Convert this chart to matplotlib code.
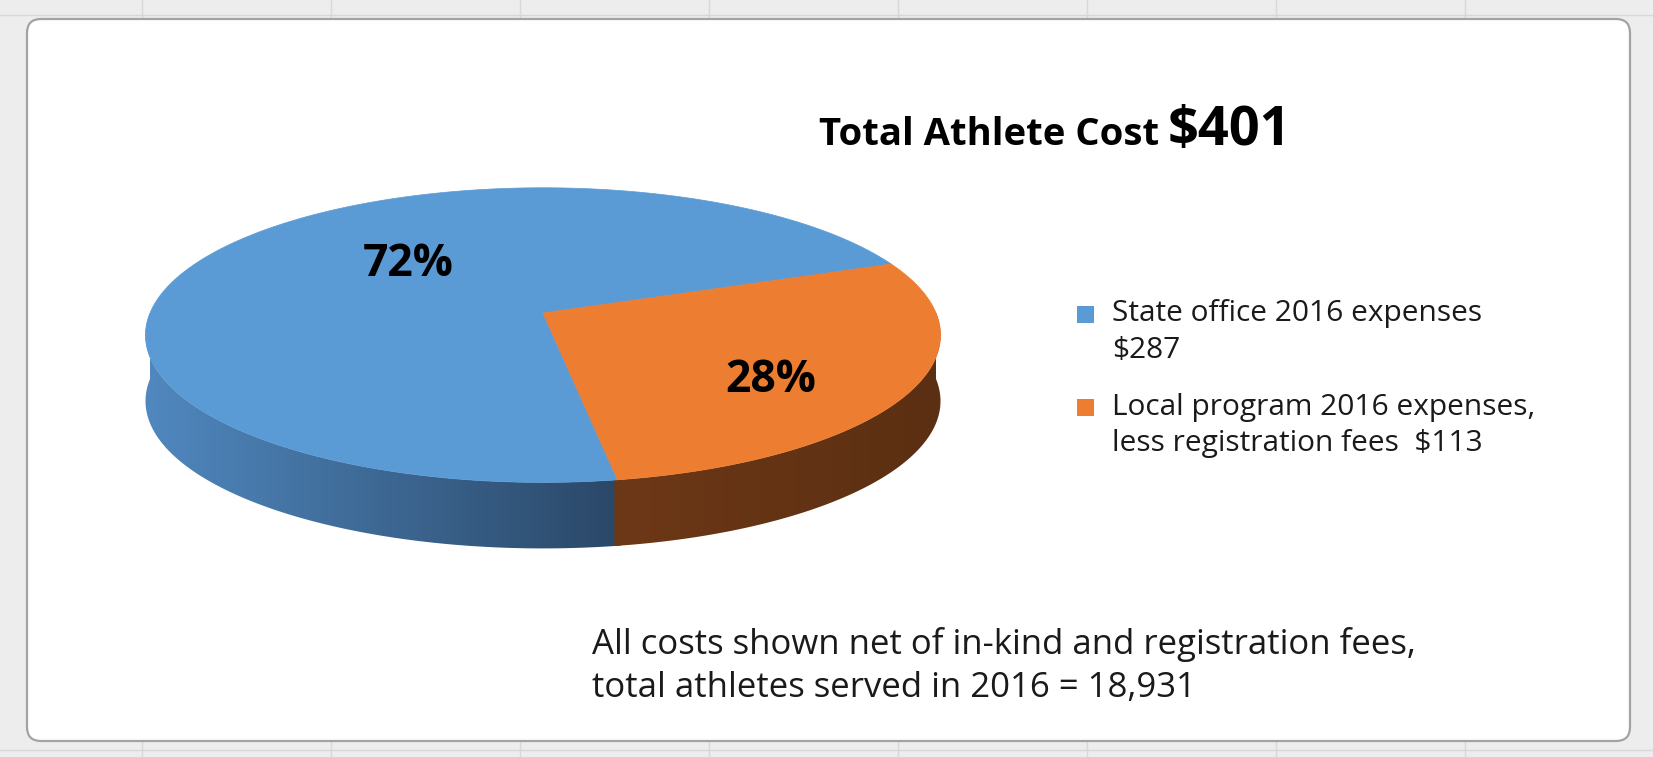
import numpy as np
import matplotlib.pyplot as plt
from matplotlib.colors import to_rgb
from matplotlib.patches import Polygon, FancyBboxPatch, Rectangle

# data
categories = ["State office 2016 expenses\n$287",
              "Local program 2016 expenses,\nless registration fees  $113"]
values = [287, 113]
total_cost = 401
athletes_served = 18931
year = 2016

top_colors = ["#5b9bd5", "#ed7d31"]
side_colors = [("#5088bf", "#2a4767"), ("#6d3817", "#5b2f12")]

plt.rcParams['font.family'] = ['Open Sans', 'DejaVu Sans']

W, H = 1653, 757
fig = plt.figure(figsize=(W / 100, H / 100), dpi=100)
ax = fig.add_axes([0, 0, 1, 1])
ax.set_xlim(0, W)
ax.set_ylim(H, 0)
ax.axis('off')

# spreadsheet behind the chart
ax.add_patch(Rectangle((0, 0), W, H, color="#ededed", zorder=0))
for x in np.arange(142, W, 189):
    ax.plot([x, x], [0, H], color="#d8d8d8", lw=1, zorder=0.5)
for y in [15, 750]:
    ax.plot([0, W], [y, y], color="#d8d8d8", lw=1, zorder=0.5)

# chart area
ax.add_patch(FancyBboxPatch((27, 19), 1603, 722,
                            boxstyle="round,pad=0,rounding_size=14",
                            facecolor="white", edgecolor="#a3a3a3", lw=1.6, zorder=1))

# 3d pie geometry (pixel space, simple perspective)
cx, cy = 543, 313
a, b, k = 393, 144, 0.15
depth = 66
start = 21.0


def rim(theta_deg):
    t = np.radians(theta_deg)
    X, Z = np.cos(t), np.sin(t)
    s = 1 + k * Z
    return cx + a * X / s, cy - b * Z / s


fracs = np.array(values) / np.sum(values)
edges = start + np.concatenate([[0], np.cumsum(fracs)]) * 360

# side walls (front half only)
for i in range(len(values)):
    t0, t1 = edges[i] % 360, edges[i + 1] % 360
    if t1 <= t0:
        t1 += 360
    lo, hi = max(t0, 180), min(t1, 360)
    if hi <= lo:
        continue
    th = np.linspace(lo - 0.4, hi + 0.4, 200)
    th = np.clip(th, 180, 360)
    xs, ys = rim(th)
    pts = np.vstack([np.column_stack([xs, ys]),
                     np.column_stack([xs[::-1], ys[::-1] + depth])])
    poly = Polygon(pts, closed=True, facecolor='none', edgecolor='none', zorder=2)
    ax.add_patch(poly)
    c0 = np.array(to_rgb(side_colors[i][0]))
    c1 = np.array(to_rgb(side_colors[i][1]))
    g = np.linspace(0, 1, 256)[None, :, None]
    img = c0 + (c1 - c0) * g
    im = ax.imshow(img, extent=[xs.min() - 1, xs.max() + 1, ys.max() + depth + 2, ys.min() - 2],
                   aspect='auto', zorder=2, interpolation='bilinear')
    im.set_clip_path(poly)

# top face
for i in range(len(values)):
    th = np.linspace(edges[i], edges[i + 1], 300)
    xs, ys = rim(th)
    pts = np.vstack([[cx, cy], np.column_stack([xs, ys])])
    ax.add_patch(Polygon(pts, closed=True, facecolor=top_colors[i],
                         edgecolor=top_colors[i], lw=0.5, zorder=3))

# percentage labels
label_pos = [(408, 265), (771, 380)]
for i, v in enumerate(values):
    ax.text(label_pos[i][0], label_pos[i][1], f"{round(fracs[i] * 100)}%",
            ha='center', va='center', fontsize=32, fontweight='bold',
            color='black', zorder=4)

# title
ax.text(1159, 145, "Total Athlete Cost", ha='right', va='baseline',
        fontsize=27.5, fontweight='bold', color='black', zorder=4)
ax.text(1168, 145, f"${total_cost}", ha='left', va='baseline',
        fontsize=39, fontweight='bold', color='black', zorder=4)

# legend
leg_y = [314, 407]
for i, lab in enumerate(categories):
    ax.add_patch(Rectangle((1077, leg_y[i] - 8.5), 17, 17,
                           facecolor=top_colors[i], edgecolor='none', zorder=4))
    for j, line in enumerate(lab.split("\n")):
        ax.text(1112, leg_y[i] + j * 37, line, ha='left', va='center',
                fontsize=21.5, color='#1a1a1a', zorder=4)

# note
ax.text(592, 645, "All costs shown net of in-kind and registration fees,",
        ha='left', va='center', fontsize=25, color='#1a1a1a', zorder=4)
ax.text(592, 688, f"total athletes served in {year} = {athletes_served:,}",
        ha='left', va='center', fontsize=25, color='#1a1a1a', zorder=4)

fig.savefig("out.png", dpi=100)
